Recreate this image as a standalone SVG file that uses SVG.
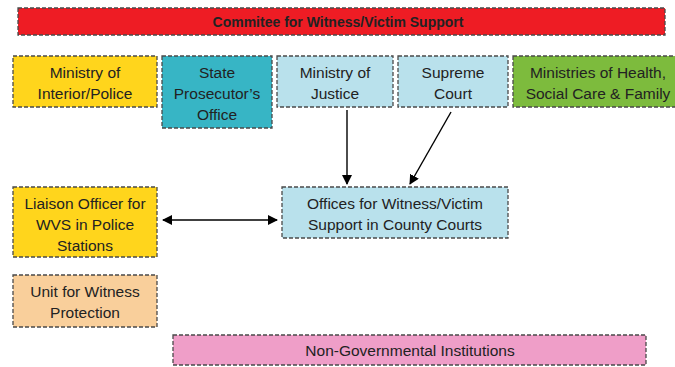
<svg xmlns="http://www.w3.org/2000/svg" width="675" height="367" viewBox="0 0 675 367">
<style>
.box{stroke:#4a4a4a;stroke-width:1.3;stroke-dasharray:4 2}
text{font-family:"Liberation Sans",Arial,sans-serif;font-size:15.5px;fill:#222;text-anchor:middle}
.t{font-weight:bold;font-size:14px}
.c{stroke:#000;stroke-width:1.4;fill:none}
</style>
<defs>
<marker id="ah" viewBox="0 0 10 10" refX="9" refY="5" markerWidth="10" markerHeight="10" orient="auto-start-reverse" markerUnits="userSpaceOnUse">
<path d="M0,0 L10,5 L0,10 z" fill="#000"/>
</marker>
</defs>
<rect width="675" height="367" fill="#fff"/>
<g id="committee"><rect class="box" x="18" y="8" width="647" height="27" fill="#ee1c24"/><text class="t" x="338" y="27">Commitee for Witness/Victim Support</text></g>
<g id="interior"><rect class="box" x="13" y="56" width="144" height="51" fill="#ffd51c"/><text x="85" y="78">Ministry of</text><text x="85" y="99">Interior/Police</text></g>
<g id="prosecutor"><rect class="box" x="162" y="56" width="110" height="72" fill="#37b5c5"/><text x="217" y="78">State</text><text x="217" y="99">Prosecutor’s</text><text x="217" y="120">Office</text></g>
<g id="justice"><rect class="box" x="277" y="56" width="116" height="51" fill="#b9e1ec"/><text x="335" y="78">Ministry of</text><text x="335" y="99">Justice</text></g>
<g id="supreme"><rect class="box" x="398" y="56" width="110" height="51" fill="#b9e1ec"/><text x="453" y="78">Supreme</text><text x="453" y="99">Court</text></g>
<g id="health"><rect class="box" x="513" y="56" width="170" height="51" fill="#7dbb3d"/><text x="598" y="78">Ministries of Health,</text><text x="598" y="99">Social Care &amp; Family</text></g>
<g id="offices"><rect class="box" x="282" y="187" width="226" height="51" fill="#b9e1ec"/><text x="395" y="209">Offices for Witness/Victim</text><text x="395" y="230">Support in County Courts</text></g>
<g id="liaison"><rect class="box" x="13" y="187" width="144" height="70" fill="#ffd51c"/><text x="85" y="209">Liaison Officer for</text><text x="85" y="230">WVS in Police</text><text x="85" y="251">Stations</text></g>
<g id="protection"><rect class="box" x="13" y="275" width="144" height="52" fill="#f9cf9b"/><text x="85" y="297">Unit for Witness</text><text x="85" y="318">Protection</text></g>
<g id="ngo"><rect class="box" x="173" y="335" width="473" height="30" fill="#ef9ec8"/><text x="410" y="356">Non-Governmental Institutions</text></g>
<g id="connectors">
<line class="c" x1="347" y1="110" x2="347" y2="184" marker-end="url(#ah)"/>
<line class="c" x1="451" y1="112" x2="410" y2="184" marker-end="url(#ah)"/>
<line class="c" x1="163" y1="220" x2="277" y2="220" marker-start="url(#ah)" marker-end="url(#ah)"/>
</g>
</svg>
